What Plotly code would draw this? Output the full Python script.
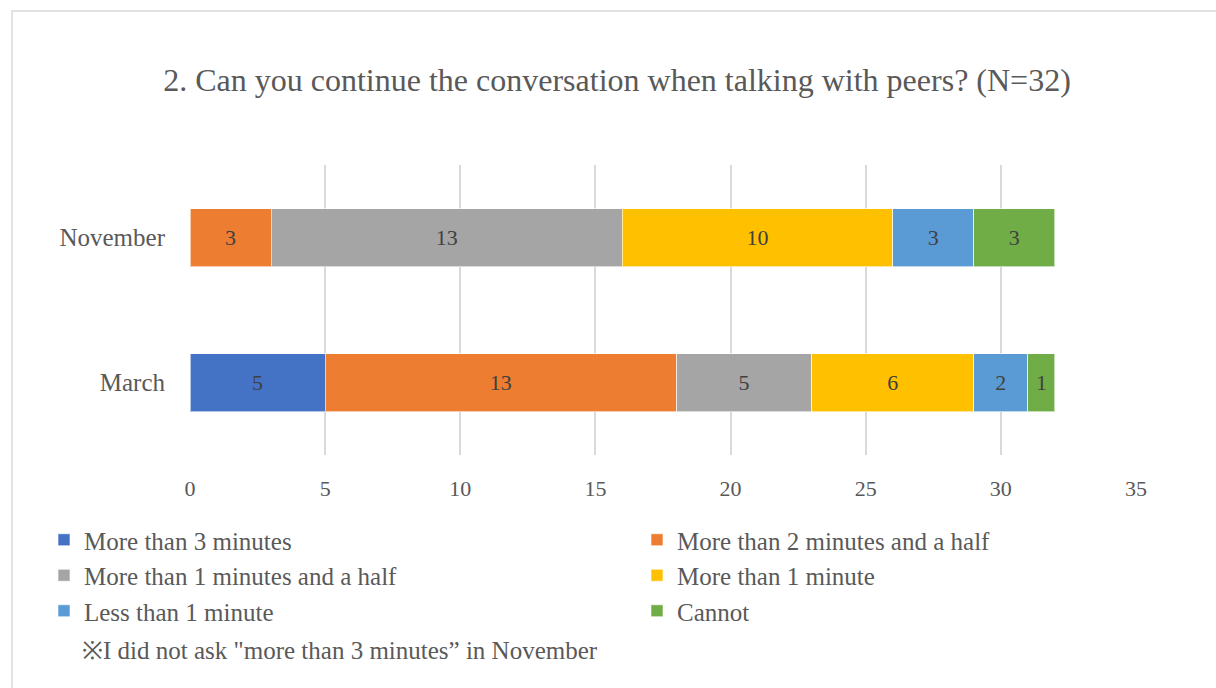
import plotly.graph_objects as go

categories = ["March", "November"]
series_names = [
    "More than 3 minutes",
    "More than 2 minutes and a half",
    "More than 1 minutes and a half",
    "More than 1 minute",
    "Less than 1 minute",
    "Cannot",
]
more_than_3 = [5, None]
more_than_2_half = [13, 3]
more_than_1_half = [5, 13]
more_than_1 = [6, 10]
less_than_1 = [2, 3]
cannot = [1, 3]
colors = ["#4472C4", "#ED7D31", "#A5A5A5", "#FFC000", "#5B9BD5", "#70AD47"]
legend_column = ["legend", "legend2", "legend", "legend2", "legend", "legend2"]
x_ticks = [0, 5, 10, 15, 20, 25, 30, 35]
title_text = "2. Can you continue the conversation when talking with peers? (N=32)"
note_text = "※I did not ask \"more than 3 minutes” in November"

FONT = "Liberation Serif"
W, H = 1216, 688
ML, MR, MT, MB = 190, 80, 165, 233
PW = W - ML - MR
PH = H - MT - MB


def px_x(px):
    return (px - ML) / PW


def px_y(py):
    return 1 - (py - MT) / PH


fig = go.Figure()
all_values = [more_than_3, more_than_2_half, more_than_1_half, more_than_1, less_than_1, cannot]
for name, vals, col, lg in zip(series_names, all_values, colors, legend_column):
    fig.add_trace(go.Bar(
        y=categories, x=vals, name=name, orientation="h", legend=lg,
        marker=dict(color=col, line=dict(color="rgba(255,255,255,0.6)", width=1)),
        text=[("" if v is None else str(v)) for v in vals],
        textposition="inside", insidetextanchor="middle",
        textfont=dict(family=FONT, size=22, color="#404040"),
        constraintext="none",
    ))

legend_common = dict(orientation="v", xref="container", yref="container",
                     xanchor="left", yanchor="top", traceorder="normal",
                     font=dict(family=FONT, size=25, color="#595959"),
                     itemwidth=30, bgcolor="rgba(0,0,0,0)")

fig.update_layout(
    width=W, height=H,
    margin=dict(l=ML, r=MR, t=MT, b=MB, autoexpand=False),
    barmode="stack", bargap=0.6,
    paper_bgcolor="white", plot_bgcolor="white",
    font=dict(family=FONT, color="#595959"),
    title=dict(text=title_text, x=px_x(617), xref="paper", xanchor="center",
               y=1 - 80 / H, yanchor="middle",
               font=dict(family=FONT, size=32, color="#595959")),
    xaxis=dict(range=[0, 35], tickvals=x_ticks, showgrid=True, gridcolor="#D9D9D9",
               gridwidth=2, zeroline=False, showline=False,
               tickfont=dict(family=FONT, size=22, color="#595959"), ticklabelstandoff=18),
    yaxis=dict(showgrid=False, zeroline=False, showline=False,
               tickfont=dict(family=FONT, size=25, color="#595959"), ticklabelstandoff=24,
               categoryorder="array", categoryarray=categories),
    legend=dict(x=44 / W, y=1 - 517 / H, **legend_common),
    legend2=dict(x=637 / W, y=1 - 517 / H, **legend_common),
    showlegend=True,
    shapes=[dict(type="rect", xref="paper", yref="paper",
                 x0=px_x(12), x1=px_x(1230), y0=px_y(700), y1=px_y(11),
                 line=dict(color="#D9D9D9", width=1.5), fillcolor="rgba(0,0,0,0)", layer="below")],
    annotations=[dict(text=note_text, xref="paper", yref="paper", x=px_x(80), y=px_y(650),
                      xanchor="left", yanchor="middle", showarrow=False,
                      font=dict(family=FONT, size=25, color="#595959"))],
)

fig.write_html("out.html")
